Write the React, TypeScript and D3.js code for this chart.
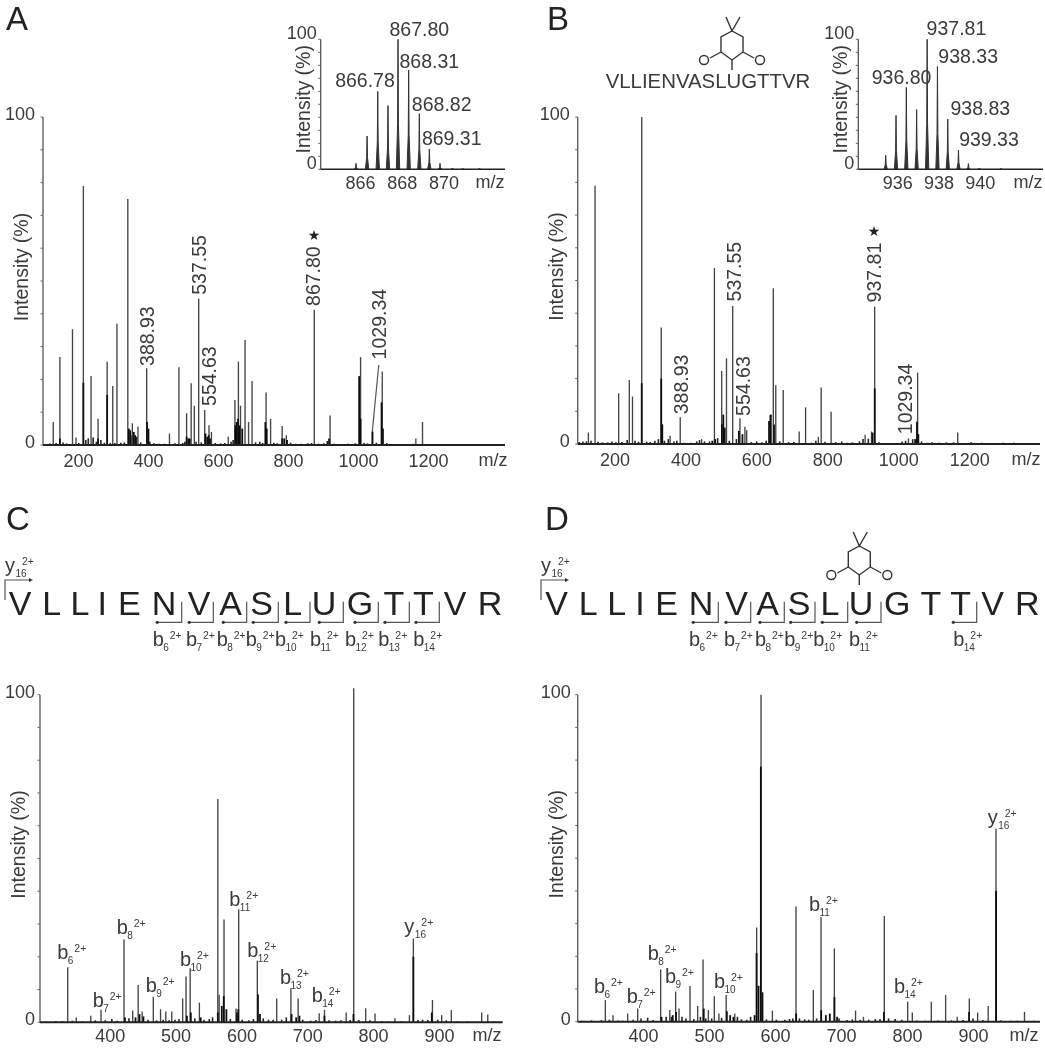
import React from "react";
import * as d3 from "d3";

type P = [number, number];

// Panel A: precursor spectrum, [m/z, intensity %]
const peaksA: P[] = [[122,7],[141,26.8],[177,35.3],[187,2.3],[208,79],[230,21],[250,8],[276,25.4],[292,18],[304,37],[335,75],[348,6.6],[364,5.6],[388.93,23.4],[454,3.5],[481,23.7],[503,9.7],[516,18.8],[525,12],[537.55,44.6],[554.63,10.7],[567,6],[574,4],[622,2.5],[641,13.7],[651,25.4],[657,12],[670,32],[680,7],[690,19.5],[730,16],[743,8],[776,5.8],[788,3],[867.8,41.2],[913,9],[1000,26.8],[1034,4.6],[1062,22.4],[1158,2],[1177,7]];
const darkA: P[] = [[141,2],[208,19],[250,2],[276,15.3],[338,5],[342,4.5],[352,4],[356,3],[390,7],[394,5],[503,2.5],[508,2],[512,2],[557,3.5],[562,2.5],[566,3],[570,2],[642,6],[646,7],[650,8],[654,6],[662,5],[728,7],[732,5],[776,2],[782,2],[790,1.5],[910,2],[996,21],[1000,8],[1034,4],[1060,13],[1064,5]];
const noiseA: P[] = [[112,.5],[130,.6],[150,.8],[160,.5],[195,.6],[215,1.5],[222,2],[236,2.3],[245,1],[258,1.5],[268,.7],[285,.6],[298,.6],[315,.7],[325,.8],[344,3],[360,2.5],[372,.8],[398,1],[410,.5],[425,.4],[440,.4],[470,.5],[492,.6],[498,1],[530,1],[545,.8],[585,.6],[600,.5],[612,.6],[630,1],[636,1.5],[700,.8],[712,1],[720,.6],[752,.7],[762,.5],[800,.7],[815,.4],[830,.4],[850,.5],[860,.6],[880,.4],[895,.5],[905,1.2],[925,.4],[945,.3],[965,.4],[985,.5],[1010,.6],[1020,.5],[1045,.7],[1075,.6],[1100,.3],[1130,.3],[1150,.4],[1190,.3],[1220,.3],[1260,.3],[1290,.3],[1320,.3],[1350,.3],[1380,.3]];

// Panel A inset
const insetA: P[] = [[865.79,4.6],[866.32,25.6],[866.83,60],[867.32,49],[867.8,100],[868.31,76.4],[868.82,42.8],[869.3,15.6],[869.81,4.6],[870.4,.8],[870.9,.6],[871.7,.6]];

// Panel B: precursor spectrum
const peaksB: P[] = [[130.6,3.5],[149.4,79],[216,15.5],[246,19.6],[255,14.5],[281,100],[336,35.6],[361,2.5],[389.6,8.2],[450,1.5],[486,53.8],[506.5,22.3],[520,26.2],[537.55,42.2],[558,7.9],[572,5.3],[577,4.2],[643,8.9],[652,47.6],[659,18],[680,16.5],[725,3.8],[743,11.2],[787,17.3],[779,2.2],[815,9.9],[911,2.8],[929,3.8],[937.81,42],[1033,1.7],[1059,21.8],[1172,3.5]];
const darkB: P[] = [[281,18.6],[336,20],[339,6],[511,9],[507,6],[515,5],[555,4],[565,3],[640,7],[645,9],[654,6],[932,3.5],[938,17],[1057,6.8],[1061,3],[1052,1.5],[488,1.5],[480,1]];
const noiseB: P[] = [[105,.6],[115,.8],[125,.8],[138,1],[158,.7],[170,.5],[185,.5],[197,.8],[208,.5],[225,.6],[240,1.2],[262,1],[272,.7],[295,.7],[305,.6],[318,1],[328,1.5],[345,1],[356,1.5],[372,.8],[380,1],[400,.4],[420,.4],[436,.8],[444,1.2],[458,.8],[472,.8],[495,1.8],[528,1],[548,1.5],[590,.6],[605,.8],[620,.5],[632,1],[670,.8],[695,.6],[710,.6],[760,.4],[772,1],[798,.7],[828,.6],[845,.8],[860,.4],[875,.5],[895,.8],[905,1.5],[920,1.6],[950,.5],[975,.3],[990,.3],[1015,.8],[1025,1],[1045,1.5],[1070,.8],[1085,.4],[1100,.5],[1120,.4],[1140,.5],[1160,.5],[1185,.3],[1210,.5],[1240,.4],[1270,.3],[1300,.4],[1330,.4],[1360,.3]];

// Panel B inset
const insetB: P[] = [[935.41,10.8],[935.91,41.4],[936.41,63],[936.91,46],[937.42,100],[937.92,79],[938.42,38.6],[938.94,14.7],[939.42,4.4],[939.95,.8],[941,.6]];

// Panel C: MS/MS spectrum
const peaksC: P[] = [[343,16.8],[356,1.5],[378,2],[393.6,3.8],[428.5,25.3],[441.7,3.6],[450,11.4],[456,3.3],[473,7.8],[484,4],[492,3.3],[501,3.3],[517.6,7.3],[522.7,14],[529,16.5],[543,6],[571,68.2],[573,8.4],[580.4,31.4],[598.6,4.2],[602.7,34.5],[631,18.8],[660.4,7.3],[682,10.4],[693,7.3],[725,2.8],[733,3.8],[766,3],[777.4,102],[795.6,4.3],[809.8,2.7],[840,1.2],[862,2.2],[868,25.6],[897,6.8],[911,2.2],[925.7,3.8],[971.8,3],[981,2.4]];
const darkC: P[] = [[571,3],[577,5],[580,8],[584,4],[600,3],[602,4],[632,8.5],[635,2.5],[683,2.5],[690,1.5],[695,2],[733,2],[777,2.5],[868,20],[896,3],[430,1.5],[446,1.5],[452,2.5],[458,1.8],[524,2],[530,3],[545,1.5]];
const noiseC: P[] = [[310,.3],[325,.4],[335,.4],[350,.5],[365,.3],[385,.6],[400,.6],[410,1],[418,.5],[436,1.2],[465,.8],[478,.6],[488,.8],[497,.6],[506,.8],[512,1],[536,1.2],[550,.8],[558,1],[563,1.5],[590,1],[608,.8],[618,.6],[625,1],[640,1.2],[648,.8],[655,.8],[668,.8],[675,1.5],[700,.8],[712,.5],[720,.7],[740,.6],[750,.5],[758,.6],[772,.7],[785,.7],[802,.6],[820,.4],[830,.3],[850,.4],[875,.7],[882,.8],[890,.7],[905,.8],[918,.6],[935,.3],[950,.3],[990,.3]];

// Panel D: MS/MS spectrum
const peaksD: P[] = [[345.9,6.6],[357.5,2],[379.7,2.5],[394.9,4],[429.7,16],[443.5,3.6],[452.4,9.2],[457.5,4],[474.2,10.9],[485.8,4.8],[493.9,19],[502,3.6],[511,7.8],[518,2.5],[529,8.2],[542,2.5],[575.2,28.8],[581.8,100],[599,3.4],[634.8,35.2],[661,9.7],[672.7,32],[692.9,22.4],[725,3.4],[737,1.5],[768.6,32.3],[804,6.1],[811,2.8],[839.8,6.1],[861.5,8.2],[879,1.5],[897.4,7.1],[910,2.8],[926,4.8],[937.8,59],[981,3]];
const darkD: P[] = [[575,21],[578,11],[581.5,78],[584,9],[572,2],[635,2.5],[673,3.5],[680,2],[686,2.5],[693,7.5],[697,1.5],[768,3],[897,3],[938,40],[453,3],[448,2],[495,4],[530,3.2],[535,2],[540,1.5],[431,1.5]];
const noiseD: P[] = [[310,.3],[325,.4],[340,.5],[352,.6],[365,.4],[372,.3],[388,.6],[400,1],[410,1.2],[418,.5],[438,1.5],[446,1.5],[462,1.5],[468,1],[480,.8],[490,1.5],[498,1],[507,1],[522,1.2],[546,1.5],[552,.7],[560,.6],[566,1.5],[590,.7],[605,.6],[618,.6],[625,.8],[630,1],[640,1],[648,.7],[654,.6],[666,1],[700,1],[712,.5],[720,.7],[732,.6],[745,.6],[755,.8],[762,.8],[775,1],[785,.8],[795,.6],[818,.4],[830,.3],[850,.4],[870,.4],[888,.5],[903,1],[918,.5],[945,.4],[960,.3],[970,.3],[995,.3]];

const xTicksFull = [200, 400, 600, 800, 1000, 1200];
const xTicksMs2 = [400, 500, 600, 700, 800, 900];
const insetTicksA = [866, 868, 870];
const insetTicksB = [936, 938, 940];
const yTicks = [0, 10, 20, 30, 40, 50, 60, 70, 80, 90, 100];

// Peak annotations: text, m/z, intensity where the text starts
const rotatedA: [string, number, number][] = [["388.93",389.5,24.1],["537.55",538,45.8],["554.63",567,11.9],["867.80",865,42.4],["1029.34",1052,26.1]];
const rotatedB: [string, number, number][] = [["388.93",391.9,9.1],["537.55",542,43.6],["554.63",567.6,8.6],["937.81",937,43.3],["1029.34",1023.4,3]];
const insetLabelsA: [string, number, number][] = [["867.80",868.82,102.6],["868.31",869.3,77.7],["866.78",866.22,63],["868.82",869.89,45],["869.31",870.37,18.7]];
const insetLabelsB: [string, number, number][] = [["937.81",938.84,103.3],["938.33",939.41,82],["936.80",936.18,66],["938.83",940,41.6],["939.33",940.42,18]];
const ionsC: [string, string, number, number][] = [["b","6",327.2,19.2],["b","7",380.9,4.6],["b","8",417.4,27],["b","9",461.4,9.2],["b","10",513.6,17.2],["b","11",588.5,35.5],["b","12",615.8,20],["b","13",665.5,11.7],["b","14",713.6,6.3],["y","16",854.3,27.2]];
const ionsD: [string, string, number, number][] = [["b","6",328.7,8.7],["b","7",378.2,5.8],["b","8",410,18.9],["b","9",436.3,11.7],["b","10",510.5,10.2],["b","11",654.5,33.9],["b","14",783.3,8.9],["y","16",925.2,60.4]];

// Sequence annotation
const sequence = ["V","L","L","I","E","N","V","A","S","L","U","G","T","T","V","R"];
const peptide = "VLLIENVASLUGTTVR";
const fragC = ["6","7","8","9","10","11","12","13","14"];
const fragD = ["6","7","8","9","10","11","14"];
const letterXC = [20,51.7,80,102.3,129.3,164,199,230.7,261.7,292.7,324,360,394,423.3,455,490];
const letterXD = [556.7,588.3,616.7,640,666.7,701,736.7,767.7,799,830,861,897.3,931,960.7,992.7,1027.3];
const bracketC: P[] = [[157.3,181.7],[189.3,213.3],[223.3,246.7],[253.3,278.3],[286,310],[319.3,343.3],[355,378.3],[385,409.3],[416,439.3]];
const bracketD: P[] = [[693.3,718.3],[726,750.7],[760,784.3],[790.7,815],[822.3,847.7],[856.7,881],[953.3,976.7]];
const fragLabelXC = [152.7,186,216.7,245.7,275,310,345,378.3,413.3];
const fragLabelXD = [689,724,755,784.3,813.3,849,953.3];

const FONT = "'Liberation Sans', Arial, sans-serif";
const INK = "#3a3a3a";

function Sticks({ data, x, y, color, width }: any) {
  return <g stroke={color} strokeWidth={width}>
    {data.map((d: P, i: number) => <line key={i} x1={x(d[0])} x2={x(d[0])} y1={y(0)} y2={y(d[1])} />)}
  </g>;
}

function Axes({ x, y, ticks, tickDx, labelDy, titleDx, titleDy, gap, labelLift, mzX, mzY, tickSize = 18, baseWidth = 1.9 }: any) {
  const [l, r] = x.range();
  const [y0, y1] = y.range();
  return <g fill={INK} fontFamily={FONT}>
    <line x1={l} x2={l} y1={y0} y2={y1} stroke="#555" strokeWidth={1.3} />
    <line x1={l} x2={r} y1={y0} y2={y0} stroke="#222" strokeWidth={baseWidth} />
    {yTicks.map(t => <line key={t} x1={l - 2.5} x2={l} y1={y(t)} y2={y(t)} stroke="#666" strokeWidth={1} />)}
    <text x={l - gap} y={y(100) + labelLift} textAnchor="end" fontSize={tickSize}>100</text>
    <text x={l - gap} y={y(0) + labelLift} textAnchor="end" fontSize={tickSize}>0</text>
    {ticks.map((t: number) => <text key={t} x={x(t) + tickDx} y={y0 + labelDy} textAnchor="middle" fontSize={tickSize}>{t}</text>)}
    <text x={mzX} y={mzY} textAnchor="middle" fontSize={18}>m/z</text>
    <text transform={`translate(${l + titleDx},${(y0 + y1) / 2 + titleDy}) rotate(-90)`} dy="0.35em" textAnchor="middle" fontSize={19.5}>Intensity (%)</text>
  </g>;
}

function Main({ peaks, dark, noise, domain, range, yRange, ticks, tickDx, mzX, labelDy, gap }: any) {
  const x = d3.scaleLinear().domain(domain).range(range);
  const y = d3.scaleLinear().domain([0, 100]).range(yRange);
  return <g>
    <Sticks data={noise} x={x} y={y} color="#222" width={1.6} />
    <Sticks data={peaks} x={x} y={y} color="#444" width={1.35} />
    <Sticks data={dark} x={x} y={y} color="#111" width={1.8} />
    <Axes x={x} y={y} ticks={ticks} tickDx={tickDx} labelDy={labelDy} titleDx={-22} titleDy={-14} gap={gap} labelLift={3} mzX={mzX} mzY={yRange[0] + labelDy - 1} />
  </g>;
}

function Inset({ data, domain, range, ticks, labels, mzX }: any) {
  const x = d3.scaleLinear().domain(domain).range(range);
  const y = d3.scaleLinear().domain([0, 100]).range([169.3, 39.3]);
  const w = 0.08;
  const shape = d3.line<P>().x(d => x(d[0])).y(d => y(d[1]));
  return <g>
    {data.map((d: P, i: number) => <path key={i} fill="#333" stroke="#333" strokeWidth={1}
      d={shape([[d[0] - w, 0], [d[0] - w * 0.25, d[1] * 0.35], [d[0], d[1]], [d[0] + w * 0.25, d[1] * 0.35], [d[0] + w, 0]]) || ""} />)}
    <Axes x={x} y={y} ticks={ticks} tickDx={0} labelDy={20} titleDx={-18} titleDy={-5} gap={4} labelLift={0} mzX={mzX} mzY={188} baseWidth={1.5} />
    {labels.map((l: any) => <text key={l[0]} x={x(l[1])} y={y(l[2])} textAnchor="middle" fontSize={19.5} fontFamily={FONT} fill={INK}>{l[0]}</text>)}
  </g>;
}

function Rotated({ labels, domain, range, yRange }: any) {
  const x = d3.scaleLinear().domain(domain).range(range);
  const y = d3.scaleLinear().domain([0, 100]).range(yRange);
  return <g fontFamily={FONT} fontSize={19.5} fill={INK}>
    {labels.map((l: any) => <text key={l[0]} transform={`translate(${x(l[1])},${y(l[2])}) rotate(-90)`} dy="0.35em">{l[0]}</text>)}
  </g>;
}

function Ion({ name, sub, x, y }: any) {
  return <g fontFamily={FONT} fill={INK}>
    <text x={x} y={y} fontSize={20}>{name}</text>
    <text x={x + 10.5} y={y + 5} fontSize={10}>{sub}</text>
    <text x={x + 17} y={y - 7} fontSize={10.5}>2+</text>
  </g>;
}

function Ions({ ions, domain, range, yRange }: any) {
  const x = d3.scaleLinear().domain(domain).range(range);
  const y = d3.scaleLinear().domain([0, 100]).range(yRange);
  return <g>{ions.map((l: any) => <Ion key={l[1]} name={l[0]} sub={l[1]} x={x(l[2])} y={y(l[3])} />)}</g>;
}

function Sequence({ xs, brackets, frags, fragXs, y16X }: any) {
  return <g fontFamily={FONT}>
    {sequence.map((s, i) => <text key={i} x={xs[i]} y={615} textAnchor="middle" fontSize={34} fill="#222">{s}</text>)}
    <g fill="none" stroke="#555" strokeWidth={1.2}>
      {brackets.map((b: P, i: number) => <path key={i} d={`M${b[1]},601.7V622.3H${b[0]}`} />)}
      <path d={`M${y16X},600V580H${y16X + 24}`} />
    </g>
    {brackets.map((b: P, i: number) => <circle key={i} cx={b[0]} cy={622.3} r={1.6} fill="#333" />)}
    <path d={`M${y16X + 24},578L${y16X + 28},580L${y16X + 24},582Z`} fill="#333" />
    {frags.map((f: string, i: number) => <Ion key={f} name="b" sub={f} x={fragXs[i]} y={645.5} />)}
    <Ion name="y" sub="16" x={y16X} y={571.5} />
  </g>;
}

function Dimedone({ cx, cy }: any) {
  return <g transform={`translate(${cx},${cy})`} fill="none" stroke="#333" strokeWidth={1.4}>
    <path d="M0,-16L11,-10V5L0,13L-11,5V-10Z" />
    <path d="M-6,-30L0,-16L8,-30M11,5L22,11M-11,5L-22,11M0,13V23" />
    <circle cx={28} cy={13} r={4.5} />
    <circle cx={-28} cy={13} r={4.5} />
  </g>;
}

function Star({ x, y }: any) {
  return <text x={x} y={y} textAnchor="middle" fontSize={14} fontFamily="'DejaVu Sans'" fill="#222">★</text>;
}

const panelLetters: [string, number, number][] = [["A", 6, 30], ["B", 547, 30], ["C", 6, 530], ["D", 545, 530]];

const domA = [92.7, 1412.7], rngA = [43, 505], yA = [445, 117];
const domB = [100.5, 1404], rngB = [577.7, 1040], yB = [444, 117];
const domC = [300.9, 1003.7], rngC = [40, 502.7], yC = [1022.3, 694.7];
const domD = [304, 1004.5], rngD = [577.7, 1040], yD = [1021.7, 694.7];

export default function App() {
  const xA = d3.scaleLinear().domain(domA).range(rngA);
  const yAs = d3.scaleLinear().domain([0, 100]).range(yA);
  return (
    <svg width={1045} height={1050} style={{ position: "absolute", left: 0, top: 0, background: "#fff" }}>
      <defs><filter id="soft" x="0" y="0" width="100%" height="100%"><feGaussianBlur stdDeviation="0.6" /></filter></defs>
      <g filter="url(#soft)">
        <rect width={1045} height={1050} fill="#fff" />
        {panelLetters.map(l => <text key={l[0]} x={l[1]} y={l[2]} fontFamily={FONT} fontSize={33} fill="#222">{l[0]}</text>)}

        <Main peaks={peaksA} dark={darkA} noise={noiseA} domain={domA} range={rngA} yRange={yA} ticks={xTicksFull} tickDx={-2} mzX={493} labelDy={22} gap={8} />
        <line x1={xA(1034)} y1={yAs(4.6)} x2={xA(1052)} y2={yAs(24.4)} stroke="#555" strokeWidth={1.2} />
        <Rotated labels={rotatedA} domain={domA} range={rngA} yRange={yA} />
        <Star x={314} y={240} />
        <Inset data={insetA} domain={[864.1, 872.92]} range={[320.7, 505]} ticks={insetTicksA} labels={insetLabelsA} mzX={490} />

        <Main peaks={peaksB} dark={darkB} noise={noiseB} domain={domB} range={rngB} yRange={yB} ticks={xTicksFull} tickDx={2} mzX={1026} labelDy={22} gap={8} />
        <Rotated labels={rotatedB} domain={domB} range={rngB} yRange={yB} />
        <Star x={874} y={236} />
        <Dimedone cx={732} cy={47} />
        <text x={708} y={88} textAnchor="middle" fontFamily={FONT} fontSize={20.4} fill={INK}>{peptide}</text>
        <Inset data={insetB} domain={[934.08, 943.04]} range={[858.3, 1043]} ticks={insetTicksB} labels={insetLabelsB} mzX={1028} />

        <Sequence xs={letterXC} brackets={bracketC} frags={fragC} fragXs={fragLabelXC} y16X={5} />
        <Main peaks={peaksC} dark={darkC} noise={noiseC} domain={domC} range={rngC} yRange={yC} ticks={xTicksMs2} tickDx={5} mzX={487} labelDy={20} gap={5} />
        <Ions ions={ionsC} domain={domC} range={rngC} yRange={yC} />

        <Sequence xs={letterXD} brackets={bracketD} frags={fragD} fragXs={fragLabelXD} y16X={541} />
        <Dimedone cx={859.3} cy={562} />
        <Main peaks={peaksD} dark={darkD} noise={noiseD} domain={domD} range={rngD} yRange={yD} ticks={xTicksMs2} tickDx={2.5} mzX={1024} labelDy={20} gap={7} />
        <Ions ions={ionsD} domain={domD} range={rngD} yRange={yD} />
      </g>
    </svg>
  );
}
